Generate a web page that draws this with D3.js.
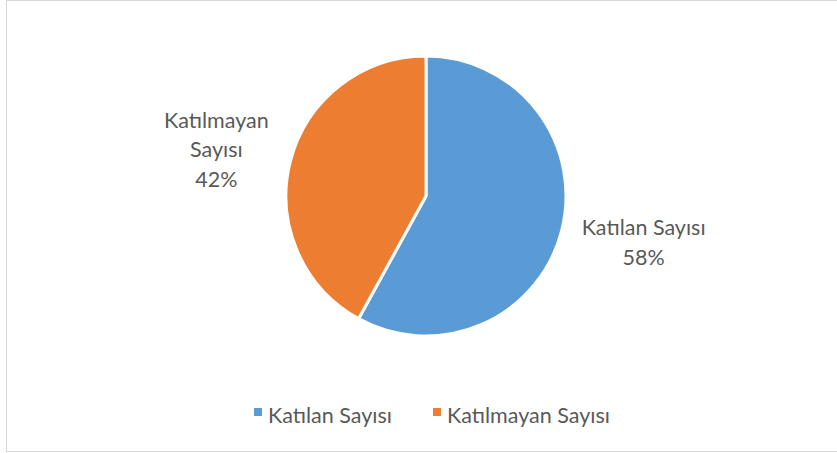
<!DOCTYPE html>
<html>
<head>
<meta charset="utf-8">
<script src="https://cdn.jsdelivr.net/npm/d3@7"></script>
<style>
  body { margin: 0; background: #fff; }
  text { font-family: Lato, "Open Sans", sans-serif; fill: #595959; }
</style>
</head>
<body>
<div id="chart"></div>
<script>
// data
var categories = ["Katılan Sayısı", "Katılmayan Sayısı"];
var values = [58, 42];
var colors = ["#5B9BD5", "#ED7D31"];
var labelLines = [["Katılan Sayısı", "58%"], ["Katılmayan", "Sayısı", "42%"]];

var width = 837, height = 453;

var svg = d3.select("#chart")
	.append("svg")
	.attr("width", width)
	.attr("height", height);

// chart border
svg.append("rect")
	.attr("x", 6.5)
	.attr("y", 0.5)
	.attr("width", 840)
	.attr("height", 451)
	.attr("fill", "none")
	.attr("stroke", "#d9d9d9")
	.attr("stroke-width", 1);

var cx = 426, cy = 196, radius = 140;

var pie = d3.pie().sort(null).value(function (d) { return d; });
var arcs = pie(values);

var arc = d3.arc().innerRadius(0).outerRadius(radius);

var g = svg.append("g")
	.attr("transform", "translate(" + cx + "," + cy + ")");

g.selectAll("path")
	.data(arcs)
	.enter()
	.append("path")
	.attr("d", arc)
	.attr("fill", function (d, i) { return colors[i]; })
	.attr("stroke", "#fff")
	.attr("stroke-width", 3)
	.attr("stroke-linejoin", "round");

// data labels (placed outside the slices)
var labelArc = d3.arc().innerRadius(radius + 95).outerRadius(radius + 95);
var lineH = 29.5;
var labelOffsets = [[-10, -12], [18, 12]];

g.selectAll("text.label")
	.data(arcs)
	.enter()
	.append("text")
	.attr("class", "label")
	.attr("text-anchor", "middle")
	.attr("font-size", 21.5)
	.each(function (d, i) {
		var c = labelArc.centroid(d);
		var lines = labelLines[i];
		var x = c[0] + labelOffsets[i][0];
		var y0 = c[1] + labelOffsets[i][1] - (lines.length - 1) * lineH / 2;
		var t = d3.select(this);
		lines.forEach(function (s, k) {
			t.append("tspan")
				.attr("x", x)
				.attr("y", y0 + k * lineH)
				.attr("dy", "0.35em")
				.text(s);
		});
	});

// legend
var legendX = [254, 433];
var legend = svg.selectAll("g.legend")
	.data(categories)
	.enter()
	.append("g")
	.attr("class", "legend")
	.attr("transform", function (d, i) { return "translate(" + legendX[i] + ",408)"; });

legend.append("rect")
	.attr("width", 8)
	.attr("height", 8)
	.attr("fill", function (d, i) { return colors[i]; });

legend.append("text")
	.attr("x", 14)
	.attr("y", 15)
	.attr("font-size", 21.5)
	.text(function (d) { return d; });
</script>
</body>
</html>
